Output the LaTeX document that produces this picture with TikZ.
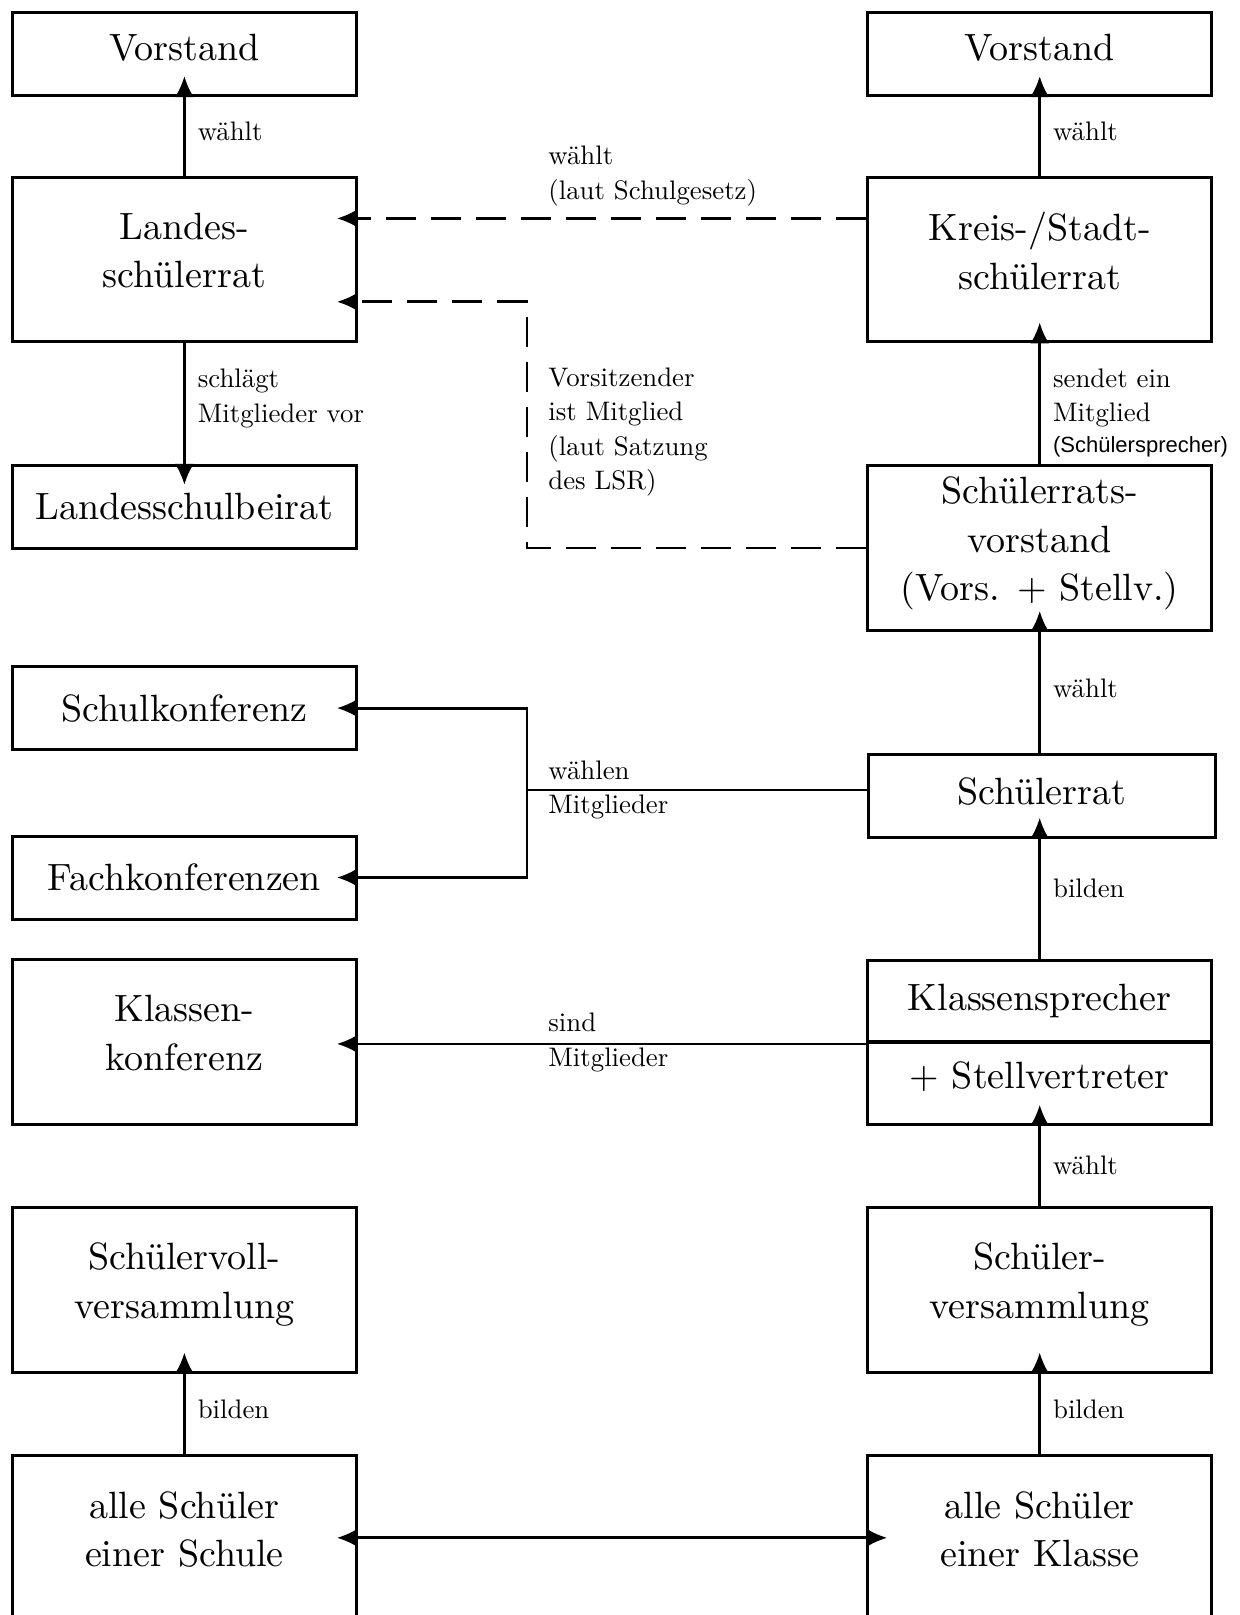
\documentclass[tikz,border=0pt]{standalone}
\usepackage{fontspec}
\newfontfamily\sansklein{Liberation Sans}
\newfontfamily\serifzehn{lmroman10-regular}[Extension=.otf]
\usetikzlibrary{arrows.meta}

\begin{document}
\begin{tikzpicture}[x=0.5pt,y=-0.5pt]
        %
        % `kasten' is used for the one-line boxes, `hochkasten' for the tall ones.
        % `beschr' is used for the small texts beside the arrows.
        \tikzstyle{kasten} = [draw,line width=1.5pt,minimum width=172pt,minimum height=41.5pt,inner sep=0pt,align=center,font=\serifzehn\fontsize{19}{24.2}\selectfont]
        \tikzstyle{hochkasten} = [kasten,minimum height=82.4pt,text depth=9pt]
        \tikzstyle{beschr} = [inner sep=0pt,align=left,font=\serifzehn\fontsize{13.4}{17.3}\selectfont]
        \tikzstyle{pfeil} = [line width=1.4pt,-{Latex[length=10.5pt,width=9.5pt]},shorten >=-10.5pt]
        \tikzstyle{gestrichelt} = [pfeil,dash pattern=on 15pt off 7.5pt]
        %
        \useasboundingbox (0,0) rectangle (1239,1615);
        \clip (0,0) rectangle (1239,1615);
        %
        % Column left
        \node[kasten,text depth=7pt] (vorstandL) at (184.4,54.1) {Vorstand};
        \node[hochkasten] (landesSR) at (184.4,259.6) {Landes-\\schülerrat};
        \node[kasten] (beirat) at (184.4,506.8) {Landesschulbeirat};
        \node[kasten] (schulkonf) at (184.4,708.1) {Schulkonferenz};
        \node[kasten] (fachkonf) at (184.4,877.5) {Fachkonferenzen};
        \node[hochkasten] (klassenkonf) at (184.4,1041.9) {Klassen-\\konferenz};
        \node[hochkasten] (vollvers) at (184.4,1289.6) {Schülervoll-\\versammlung};
        \node[hochkasten] (schuleAlle) at (184.4,1537.8) {alle Schüler\\einer Schule};
        %
        % Column right
        \node[kasten,text depth=7pt] (vorstandR) at (1039.7,54.1) {Vorstand};
        \node[hochkasten] (kreisSR) at (1039.7,259.6) {Kreis-/Stadt-\\schülerrat};
        \node[hochkasten] (srVorstand) at (1039.7,548) {Schülerrats-\\vorstand\\(Vors. + Stellv.)};
        \node[kasten,minimum width=173.5pt,text depth=5pt] (schuelerrat) at (1041.8,795.7) {Schülerrat};
        \node[kasten,minimum height=41.2pt] (ksprecher) at (1039.7,1001.2) {Klassensprecher};
        \node[kasten,minimum height=41.2pt,text depth=8pt] (kstellv) at (1039.7,1083) {+ Stellvertreter};
        \node[hochkasten] (schuelervers) at (1039.7,1289.6) {Schüler-\\versammlung};
        \node[hochkasten] (klasseAlle) at (1039.7,1537.8) {alle Schüler\\einer Klasse};
        %
        % Arrows left
        \draw[pfeil] (landesSR) -- node[beschr,right=6pt,yshift=2.6pt] (lblWaehltL) {wählt} (vorstandL);
        \draw[pfeil] (landesSR) -- node[beschr,right=6pt,yshift=2.6pt] (lblVorschlag) {schlägt\\Mitglieder vor} (beirat);
        \draw[pfeil] (schuleAlle) -- node[beschr,right=6pt,yshift=2pt] (lblBildenL) {bilden} (vollvers);
        %
        % Arrows right
        \draw[pfeil] (kreisSR) -- node[beschr,right=6pt,yshift=2.6pt] (lblWaehltR) {wählt} (vorstandR);
        \draw[pfeil] (srVorstand) -- node[beschr,right=6pt,yshift=-4.4pt] (lblSendet) {sendet ein\\Mitglied\\[-2pt]{\sansklein\fontsize{11}{13}\selectfont(Schülersprecher)}} (kreisSR);
        \draw[pfeil] (srVorstand.south |- schuelerrat.north) -- node[beschr,right=6pt,yshift=2pt] (lblWaehltSR) {wählt} (srVorstand.south);
        \draw[pfeil] (ksprecher.north) -- node[beschr,right=6pt,yshift=5pt] (lblBildenSR) {bilden} (ksprecher.north |- schuelerrat.south);
        \draw[pfeil] (schuelervers) -- node[beschr,right=6pt] (lblWaehltKS) {wählt} (kstellv);
        \draw[pfeil] (klasseAlle) -- node[beschr,right=6pt,yshift=2pt] (lblBildenR) {bilden} (schuelervers);
        %
        % Dashed lines to the Landesschuelerrat
        \draw[gestrichelt] ([yshift=20.6pt]kreisSR.west) -- ([yshift=20.6pt]landesSR.east);
        \node[beschr,anchor=north west] (lblGesetz) at (548,146) {wählt\\(laut Schulgesetz)};
        \coordinate (knickLSR) at (527,301.8);
        \draw[gestrichelt] (srVorstand.west) -| (knickLSR) -- (knickLSR -| landesSR.east);
        \node[beschr,anchor=north west] (lblSatzung) at (548,367) {Vorsitzender\\ist Mitglied\\(laut Satzung\\des LSR)};
        %
        % Konferenzen
        \coordinate (knickKonf) at (527,790);
        \draw[line width=1.4pt] (schuelerrat.west |- knickKonf) -- (knickKonf);
        \draw[pfeil] (knickKonf) |- (schulkonf.east);
        \draw[pfeil] (knickKonf) |- (fachkonf.east);
        \node[beschr,anchor=west] (lblWaehlen) at (548,790) {wählen\\Mitglieder};
        \draw[pfeil] (ksprecher.south west) -- (klassenkonf.east |- ksprecher.south west);
        \node[beschr,anchor=west] (lblSind) at (548,1042.4) {sind\\Mitglieder};
        %
        % Bottom
        \draw[pfeil,{Latex[length=10.5pt,width=9.5pt]}-{Latex[length=10.5pt,width=9.5pt]},shorten <=-10.5pt] (schuleAlle) -- (klasseAlle);
        %
\end{tikzpicture}
\end{document}
